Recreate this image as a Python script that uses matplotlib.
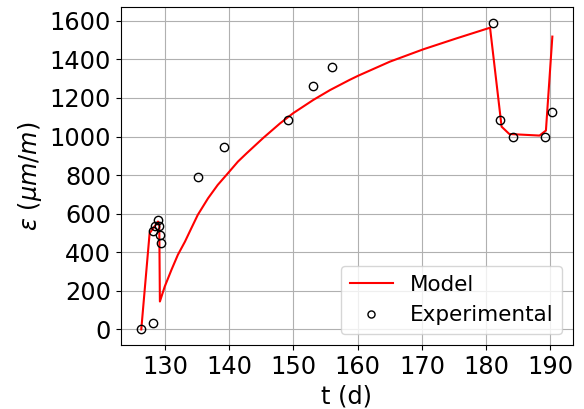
import matplotlib
matplotlib.use("Agg")
import matplotlib.pyplot as plt

# Model curve
model_t = [126.3, 127.6, 128.5, 128.9, 129.1, 129.2, 129.95, 131.0, 132.0, 133.1, 134.1,
           135.1, 136.7, 138.2, 139.8, 141.35, 142.7, 145.3, 147.9, 149.95, 153.1,
           155.7, 158.7, 160.06, 165.0, 170.2, 175.4, 180.6,
           182.4, 183.6, 188.3, 189.3, 190.3]
model_eps = [0, 499, 540, 559, 550, 145, 222, 309, 387, 455, 525,
             594, 680, 749, 810, 870, 913, 993, 1068, 1121, 1190,
             1241, 1293, 1315, 1388, 1452, 1509, 1564,
             1051, 1013, 1005, 1031, 1518]

# Experimental points
exp_t = [126.3, 128.1, 128.2, 128.4, 128.96, 129.1, 129.2, 129.3, 135.1, 139.2, 149.2,
         153.0, 156.0, 181.1, 182.1, 184.2, 189.2, 190.3]
exp_eps = [0, 33, 512, 538, 568, 538, 489, 447, 789, 948, 1086,
           1262, 1359, 1590, 1086, 998, 1000, 1126]

fs = 17.3
fig = plt.figure(figsize=(5.84, 4.09), dpi=100)
ax = fig.add_axes([0.2067, 0.157, 0.7743, 0.825])
ax.plot(model_t, model_eps, color='red', lw=1.5, label='Model')
ax.plot(exp_t, exp_eps, 'o', mfc='none', mec='black', ms=6, label='Experimental')
ax.grid(True)
ax.set_axisbelow(True)
ax.set_xlabel('t (d)', fontsize=fs)
ax.set_ylabel(r'$\epsilon\ (\mu m/m)$', fontsize=fs)
ax.tick_params(labelsize=fs)
ax.set_xticks([130, 140, 150, 160, 170, 180, 190])
ax.set_yticks(range(0, 1601, 200))
ax.legend(loc='lower right', fontsize=15.5, markerscale=0.85)
fig.savefig('out.png', dpi=100)
